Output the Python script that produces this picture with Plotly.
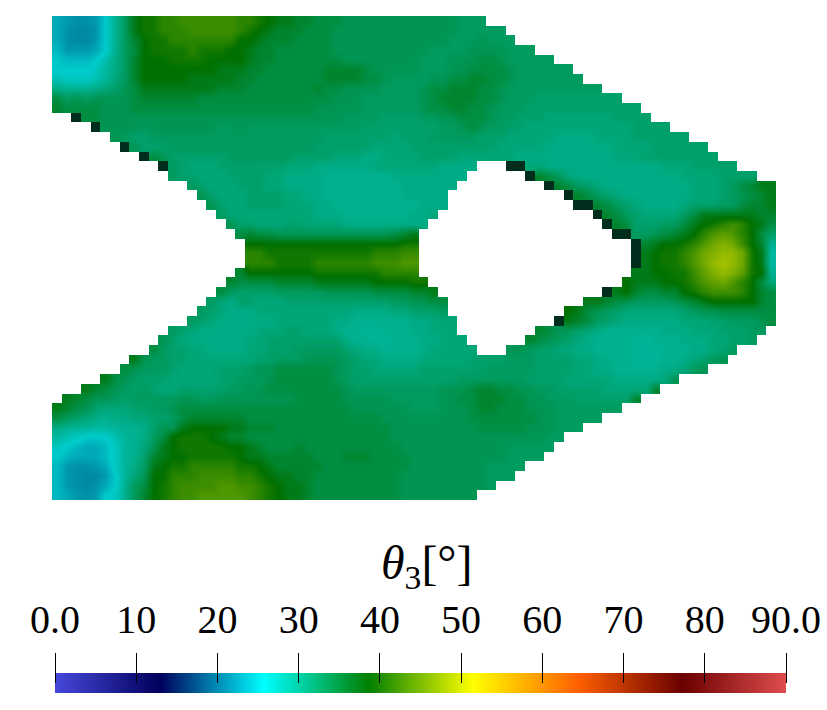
import plotly.graph_objects as go

# theta_3 field, one character per element (75 x 50).
# '.' = no material, '#' = dark shadowed element, letters = degrees via LEVELS.
LEVELS = "abcdefghijklmnopqrstuvwxyzABC"
LEVEL_VALUES = [21.5, 22, 22.5, 23.5, 24.5, 25.5, 26.5, 27.5, 28.5, 29, 29.5, 30.2, 31, 31.8, 32.6,
                33.4, 34.4, 35.6, 37, 38.5, 39.5, 41, 42, 43, 44, 45, 46, 47, 48]
THETA_ROWS = [
"dcbbc fkosu uvvww wwwwv vutss rrqqq ppppp ppppp ppooo ..... ..... ..... ..... ..... .....",
"dbaab fkosu uvvvw wwwwv utsrr rqqqp ppppp ppppp ppooo oo... ..... ..... ..... ..... .....",
"dbaac fkort uuvvv vvvvt tsrrr qqqqp ppppp ppppp pooop ooo.. ..... ..... ..... ..... .....",
"ecccd fkoqt uuuuv uuutt srrqq qqqqp ppppp ppppo ooopp ppooo ..... ..... ..... ..... .....",
"feeef hlort ttuuu utttt srrqq qqqqq ppppp pppoo opppq qpooo oo... ..... ..... ..... .....",
"ffffg ilort ttttt ttsss rrqqq qqqrr rrqpp pppoo oppqq qqpoo oooo. ..... ..... ..... .....",
"hgggh jmort tttts ssssr rqqqq qqqrr rrqqp oooop pqqrr qqpoo ooooo ..... ..... ..... .....",
"lkkkl mnpqs sssss ssrrr qqqqq qqrqq ppppo ooopq qrrrq qpooo ooooo oo... ..... ..... .....",
"qopop pppqr rrrrr qqqqq qqqqq qqqqp ppooo ooopq rrrrq qpooo nnnnn nnnn. ..... ..... .....",
"rqqqq pppqq qqqqq qqqqq qqqqq qqppp ppooo ooopq qrrqq pooon nnnnn nnnnn n.... ..... .....",
"..#qq ppppp ppppp ppppp ppppp ppppp oooon nnnoo ppqqq poonn nmmmm mmmnn nn... ..... .....",
"....# ppppo ppppp ppoop ooooo ooooo oonnn nnnnn oopqp oonnm mmmmm mmmmm nnnn. ..... .....",
"..... .ponn ooooo ooooo ooooo ooonn nnnnn mnnno oooon nnmmm mmlll lmmmm nnnnn n.... .....",
"..... ..#pn nnooo ooooo ooooo oonnn nnnmm mmnnn nnnnn nmmmm mllll lllmm mmnnn nnn.. .....",
"..... ....# qpnnn nnnoo ooooo nnnnm mmllm mmmnn nnmmm mmmll lllll lllmm mnnnn nnnn. .....",
"..... ..... .#onm mmnnn nnnnm mmlll lllmm mmmmm llll. ..##m mllll lllll lllmm mnnnn n....",
"..... ..... ..onn mmmnn nnmml lllkk kkkkk lllll lll.. ....# rqoml lllll lllll mmmmn nnn..",
"..... ..... ....o nmmmn nnmml lllkk kkkkk kllll ll... ..... .#rqo nmlll lllll lmmmn oqrss",
"..... ..... ..... pnmmm nnnnm mllkk kkkkk kllll l.... ..... ...#r qonml lllll lmmmn opqrs",
"..... ..... ..... .pnmm nnnnm mmllk kkkkk kkkll l.... ..... ....# #rqon mllll mnnno oqrrs",
"..... ..... ..... ..omm mmmmm mmlll kkkkk kkllm ..... ..... ..... .#rqo nmmmm oqsss sssrr",
"..... ..... ..... ...pn nmmmn nmmmm lllll llll. ..... ..... ..... ..#rq nnnoo qstuv wvtsq",
"..... ..... ..... ....q rqqpp ppppp ppppp qrs.. ..... ..... ..... ...## oopqr stvxy xvtqn",
"..... ..... ..... ..... ttttt ttttt ttttt tuu.. ..... ..... ..... ..... #rstt uvxzA zwtrk",
"..... ..... ..... ..... vvuuu uuuuu uuuvv vww.. ..... ..... ..... ..... #stuu vxzAB Bzusi",
"..... ..... ..... ..... vvvuu uuvvv vvvww wxx.. ..... ..... ..... ..... #stuu vxzBC Bzusi",
"..... ..... ..... ....r ttttt ttuuu uuuuv vvv.. ..... ..... ..... ..... ssttu uwyAB Ayutk",
"..... ..... ..... ...rq qqqrr rrsss ssstt ttuu. ..... ..... ..... ....t ssstt uvxyz xvtqm",
"..... ..... ..... ..qon nnnoo ooopp pppqq qqrrs ..... ..... ..... ..#st rqqrr tuvww wvtrq",
"..... ..... ..... .omln nmmmn nnnnn nnnnn ooppq q.... ..... ..... ssrqp oooop qrstt tttrq",
"..... ..... ..... onmll lmmmm mmmmm mllll mmnnn o.... ..... ...ts qponm mmmmm noppq qqqqq",
"..... ..... ....o nmlll lllmm mmmml lkkkk kkllm mm... ..... ..#sr qonml lllll mmmnn ooopq",
"..... ..... ..onm lllll lmmmn nmmml kkjjk kkllm mm... ..... rqpon mlkkk kkkll lmmmn nnoo.",
"..... ..... .pnml lllll mmnnn nnnnn lkkjj kkkll mmm.. ....r qponm lkkkk jjkkk lllmm nno..",
"..... ..... qonnm mllll mmnnn ooooo nmllk kkklm mmmm. ..ppo nnmml lkkkk jjjkk kllmn o....",
"..... ...sp oonnm mmmmm mnnoo opppp onmml lllmm mmmnn nnooo nnnnm mllkk jjjkk lmnop .....",
"..... ..qpo oonmm mmnnn oppqq qqqqp onnmm mmmnn nnnnn ooooo nnnnm mllkk kkkll mop.. .....",
"..... sqpon nnmmm mmnno oopqq qqqqp onnnn nnnnn nnooo oooon nnnmm mmmll lllmp ..... .....",
"...sr qpono nmmnn nnnoo ppqqq qqqqq poooo ooooo pppqr rqqpp oonnn nnmmm mmr.. ..... .....",
".srqp ponoo ooopp ooppp ppppp qqqqq ppppp ooooo ppqqr rrqqp pooon nnnnn r.... ..... .....",
"srqpn mmmnn oopqq qqqqq qqqqq qqqqq qpppp ppooo pppqr rqqqp ppooo oooo. ..... ..... .....",
"qonml kllmm nnoqr rrrrr qqqqq qqqqq qqqqp ppppp pppqq qqqqq ppooo oo... ..... ..... .....",
"lkjji ijkkl nppst tttss rrrqq qqqqq qqqqq ppppp ppppq qqqqp ppooo ..... ..... ..... .....",
"ihgff fhjkl oqtuu utsrr qqqqq qqqqq qqqqq ppppp ppppp ppppp poo.. ..... ..... ..... .....",
"gfedd egjkm pstuu uuutt srqqq rqqqq qqqqq qpppp ppppp ppooo oo... ..... ..... ..... .....",
"feddd egjkn rsttu uuuut ssrrr rrqqq rrrqq qqppp ppppp ppooo o.... ..... ..... ..... .....",
"ecbbc dgjlo stuuv vvvvu utsrr rrrqq qqqqq qqppp ppppp oooo. ..... ..... ..... ..... .....",
"ecbaa cfjmp ttvvv wwwwv vutss rrqqq qqqqq qpppp ppppp ooo.. ..... ..... ..... ..... .....",
"ecbab dfkoq tuvww wwxxw wvuts srqqq qqqqq qpppp ppppp o.... ..... ..... ..... ..... .....",
"edcbc fgkor tuvww xxxxx wvuts srqqq qqqqq qpppp pppp. ..... ..... ..... ..... ..... .....",
]

COLORBAR_TITLE = "<i>θ</i><sub>3</sub>[°]"
TICK_VALUES = [0, 10, 20, 30, 40, 50, 60, 70, 80, 90]
TICK_LABELS = ["0.0", "10", "20", "30", "40", "50", "60", "70", "80", "90.0"]
BAR_RAMP = list(range(0, 91))

# ParaView "Rainbow Desaturated"
RAINBOW_POS = [0.0, 1 / 7, 2 / 7, 3 / 7, 4 / 7, 5 / 7, 6 / 7, 1.0]
RAINBOW_RGB = [(71, 71, 219), (0, 0, 92), (0, 255, 255), (0, 127, 0),
               (255, 255, 0), (255, 96, 0), (107, 0, 0), (224, 77, 77)]
# the rendered surface is a little darker than the legend, most of all around cyan
RAINBOW_LIT = [0.88, 0.88, 0.80, 0.88, 0.88, 0.88, 0.88, 0.88]
SHADOW = "rgb(0,45,28)"
SERIF = "Liberation Serif"

bar_scale = [[p, f"rgb{c}"] for p, c in zip(RAINBOW_POS, RAINBOW_RGB)]
lit_scale = [[p, "rgb(%d,%d,%d)" % tuple(round(v * k) for v in c)]
             for p, c, k in zip(RAINBOW_POS, RAINBOW_RGB, RAINBOW_LIT)]

rows = [r.replace(" ", "") for r in THETA_ROWS]
assert all(len(r) == 75 for r in rows), [i for i, r in enumerate(rows) if len(r) != 75]

theta = [[LEVEL_VALUES[LEVELS.index(ch)] if ch in LEVELS else None for ch in r] for r in rows]
shadow = [[1 if ch == "#" else None for ch in r] for r in rows]

W, H = 827, 710
fig = go.Figure()
fig.add_trace(go.Heatmap(z=theta, zmin=0, zmax=90, colorscale=lit_scale, showscale=False,
                         zsmooth="best", hoverongaps=False, xaxis="x", yaxis="y"))
fig.add_trace(go.Heatmap(z=shadow, zmin=0, zmax=1, colorscale=[[0, SHADOW], [1, SHADOW]],
                         showscale=False, hoverongaps=False, xaxis="x", yaxis="y"))
fig.add_trace(go.Heatmap(z=[BAR_RAMP, BAR_RAMP], x=BAR_RAMP, y=[0, 1], zmin=0, zmax=90,
                         colorscale=bar_scale, zsmooth="best", showscale=False,
                         hoverinfo="skip", xaxis="x2", yaxis="y2"))

fig.update_layout(
    width=W, height=H, margin=dict(l=0, r=0, t=0, b=0, autoexpand=False),
    paper_bgcolor="white", plot_bgcolor="white", showlegend=False,
    xaxis=dict(domain=[52 / W, 776 / W], range=[-0.5, 74.5], visible=False),
    yaxis=dict(domain=[1 - 500 / H, 1 - 16 / H], range=[49.5, -0.5], visible=False),
    xaxis2=dict(domain=[55 / W, 786 / W], range=[0, 90], anchor="free",
                position=1 - 683 / H, side="top", showgrid=False, zeroline=False,
                showline=False, ticks="outside", ticklen=30, tickwidth=1, tickcolor="black",
                tickmode="array", tickvals=TICK_VALUES, ticktext=TICK_LABELS,
                tickangle=0, ticklabelstandoff=4, automargin=False,
                tickfont=dict(family=SERIF, size=40, color="black")),
    yaxis2=dict(domain=[1 - 693 / H, 1 - 673 / H], range=[0, 1], anchor="x2",
                visible=False),
    annotations=[dict(text=COLORBAR_TITLE, xref="paper", yref="paper", x=427 / W,
                      y=1 - 566 / H, xanchor="center", yanchor="middle", showarrow=False,
                      font=dict(family=SERIF, size=48, color="black"))],
)

fig.write_html("out.html", config={"displayModeBar": False},
               post_script="document.body.style.margin='0';document.body.style.overflow='hidden';")
